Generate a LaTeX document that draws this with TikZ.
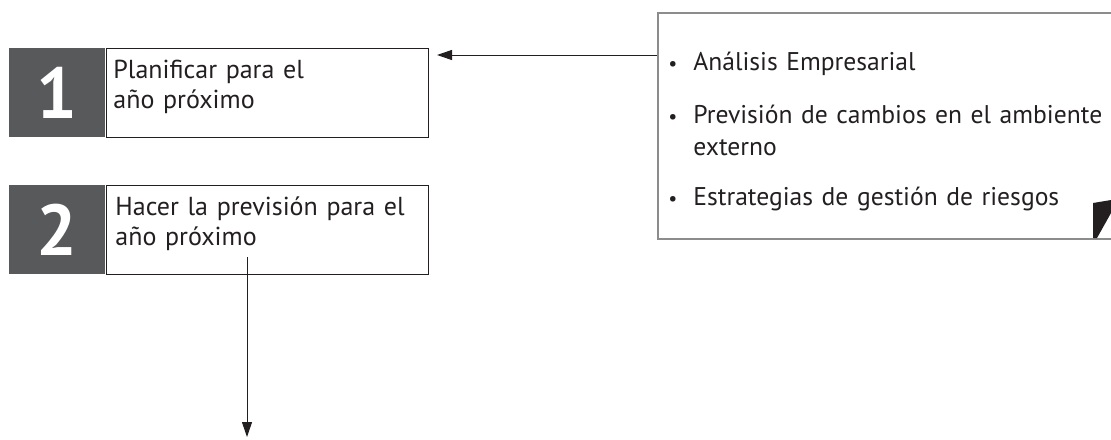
\documentclass[tikz,border=0pt]{standalone}
\usepackage{fontspec}
\setmainfont{PT Sans}
\usetikzlibrary{positioning,calc,arrows.meta}
\definecolor{numgray}{HTML}{58595B}
\definecolor{inkgray}{HTML}{231F20}
\definecolor{framegray}{HTML}{8C8C8C}
\tikzset{
  numbox/.style = {fill=numgray, text=white, minimum width=48pt, minimum height=44.5pt, inner sep=0, font=\fontsize{36}{36}\selectfont\bfseries},
  stepbox/.style = {draw=inkgray, line width=0.6pt, minimum width=161pt, minimum height=44.5pt, inner sep=0},
  steptext/.style = {anchor=base west, inner sep=0, text width=155pt, align=left, text=inkgray, font=\fontsize{13}{15}\selectfont},
  infobox/.style = {draw=framegray, line width=1pt, minimum width=260pt, minimum height=113pt, inner sep=0},
  itemtext/.style = {anchor=base west, inner sep=0, text width=220pt, align=left, text=inkgray, font=\fontsize{12.8}{16}\selectfont},
  dot/.style = {anchor=base, inner sep=0, text=inkgray, font=\fontsize{10}{16}\selectfont},
  arr/.style = {draw=inkgray, line width=0.5pt, -{Triangle[length=7.5pt,width=5pt]}}
}

\begin{document}
\begin{tikzpicture}[x=0.5pt, y=-0.5pt]
  \clip (0,0) rectangle (1111,439);

  % steps
  \node [numbox, anchor=north west] (num1) at (9,48) {1};
  \node [stepbox, anchor=north west] (step1) at (num1.north east) {};
  \node [numbox, anchor=north west] (num2) at (9,185) {2};
  \node [stepbox, anchor=north west] (step2) at (num2.north east) {};
  \node [steptext] (txt1) at (113,78) {Planificar para el\\año próximo};
  \node [steptext] (txt2) at (115,215) {Hacer la previsión para el\\año próximo};

  % info
  \node [infobox, anchor=north west] (info) at (657,12) {};
  \foreach \y/\txt [count=\i] in {70/Análisis Empresarial, 123/{Previsión de cambios en el ambiente\\externo}, 205/Estrategias de gestión de riesgos} {
    \node [dot] (dot\i) at (673,\y) {\textbullet};
    \node [itemtext] (item\i) at (693,\y) {\txt};
  }
  \fill [inkgray] (1093,203) -- (1111,200) -- (1111,213) -- (1097,238) -- (1093,238) -- cycle;

  % arrows
  \coordinate (tip1) at (437,55);
  \draw [arr] (info.west |- tip1) -- (tip1);
  \coordinate (tip2) at (247,437);
  \draw [arr] ($(step2.south -| tip2)+(0,-18)$) -- (tip2);
\end{tikzpicture}
\end{document}
